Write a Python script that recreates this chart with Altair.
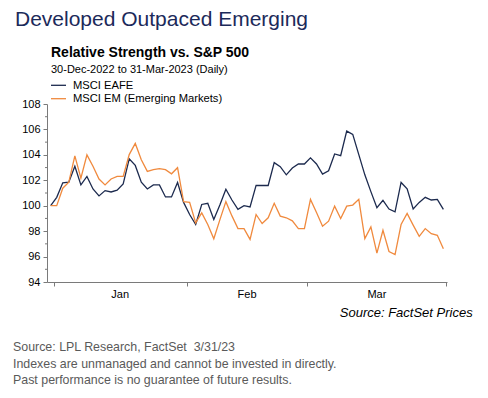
import altair as alt
import pandas as pd

# ---------------- data ----------------
dates = [
    "2022-12-30",
    "2023-01-02", "2023-01-03", "2023-01-04", "2023-01-05", "2023-01-06",
    "2023-01-09", "2023-01-10", "2023-01-11", "2023-01-12", "2023-01-13",
    "2023-01-16", "2023-01-17", "2023-01-18", "2023-01-19", "2023-01-20",
    "2023-01-23", "2023-01-24", "2023-01-25", "2023-01-26", "2023-01-27",
    "2023-01-30", "2023-01-31",
    "2023-02-01", "2023-02-02", "2023-02-03",
    "2023-02-06", "2023-02-07", "2023-02-08", "2023-02-09", "2023-02-10",
    "2023-02-13", "2023-02-14", "2023-02-15", "2023-02-16", "2023-02-17",
    "2023-02-20", "2023-02-21", "2023-02-22", "2023-02-23", "2023-02-24",
    "2023-02-27", "2023-02-28",
    "2023-03-01", "2023-03-02", "2023-03-03",
    "2023-03-06", "2023-03-07", "2023-03-08", "2023-03-09", "2023-03-10",
    "2023-03-13", "2023-03-14", "2023-03-15", "2023-03-16", "2023-03-17",
    "2023-03-20", "2023-03-21", "2023-03-22", "2023-03-23", "2023-03-24",
    "2023-03-27", "2023-03-28", "2023-03-29", "2023-03-30", "2023-03-31",
]

eafe = [
    100.0, 100.66, 101.8, 101.85, 103.1, 101.64, 102.3, 101.32, 100.77, 101.19,
    101.08, 101.22, 101.72, 103.68, 103.17, 101.85, 101.32, 101.64, 101.64, 100.69,
    100.69, 101.83, 100.26, 99.31, 98.52, 100.1, 100.19, 98.92, 100.05, 101.3,
    100.45, 99.71, 100.0, 99.9, 101.6, 101.59, 101.59, 103.39, 103.07, 102.43,
    102.96, 103.28, 103.28, 103.76, 103.28, 102.49, 102.75, 104.07, 103.94, 105.87,
    105.61, 104.02, 102.43, 101.11, 99.84, 100.42, 99.74, 99.52, 101.83, 101.32,
    99.74, 100.26, 100.66, 100.45, 100.5, 99.71,
]

em = [
    100.0, 100.0, 101.38, 101.85, 103.92, 102.17, 104.0, 103.1, 102.1, 101.64,
    102.1, 102.3, 102.3, 104.02, 104.9, 103.62, 102.7, 102.83, 102.91, 102.83,
    102.51, 102.99, 100.32, 100.26, 98.65, 99.44, 98.52, 97.4, 98.89, 100.32,
    99.2, 98.2, 98.2, 97.35, 99.31, 98.6, 99.05, 100.19, 99.18, 99.05,
    98.81, 98.2, 98.2, 100.5, 99.47, 98.39, 98.78, 99.97, 98.99, 99.97,
    100.05, 100.5, 97.41, 98.33, 96.27, 98.07, 96.4, 96.16, 98.52, 99.39,
    98.47, 97.59, 98.2, 97.8, 97.67, 96.61,
]

series_names = ["MSCI EAFE", "MSCI EM (Emerging Markets)"]
series_colors = ["#1c2a4e", "#f08a3e"]

y_major = [94, 96, 98, 100, 102, 104, 106, 108]
y_minor = [95, 97, 99, 101, 103, 105, 107]
month_names = ["Jan", "Feb", "Mar"]

title_text = "Developed Outpaced Emerging"
chart_title = "Relative Strength vs. S&P 500"
chart_sub = "30-Dec-2022 to 31-Mar-2023 (Daily)"
source_text = "Source: FactSet Prices"
footer_text = ("Source: LPL Research, FactSet\u00a0 3/31/23\n"
               "Indexes are unmanaged and cannot be invested in directly.\n"
               "Past performance is no guarantee of future results.")

# ---------------- tables ----------------
n = len(dates)
rows = []
for i in range(n):
    rows.append({"i": i, "date": dates[i], "series": series_names[0], "v": eafe[i]})
    rows.append({"i": i, "date": dates[i], "series": series_names[1], "v": em[i]})
df = pd.DataFrame(rows)

# month boundaries (between last day of a month and first of next)
months_idx = [int(d[5:7]) for d in dates]
bounds = [0.5]
for k in range(1, n):
    if months_idx[k] != months_idx[k - 1] and k > 1:
        bounds.append(k - 0.5)
bounds.append(n - 0.5)
centers = [(bounds[j] + bounds[j + 1]) / 2 for j in range(len(month_names))]
month_df = pd.DataFrame({"m": month_names, "c": centers})

W, H = 400, 178
FONT = "Liberation Sans"
AX = "#7a7a7a"

xscale = alt.Scale(domain=[-0.61, 65.6], nice=False, zero=False)
yscale = alt.Scale(domain=[94, 108], nice=False, zero=False)
xaxis = alt.Axis(values=bounds, labels=False, tickSize=4, title=None,
                 grid=False, domainColor=AX, tickColor=AX)
yaxis = alt.Axis(values=y_major, tickSize=4, labelPadding=3, title=None,
                 grid=False, domainColor=AX, tickColor=AX,
                 labelOverlap=False, labelBound=False, labelFlush=False,
                 labelColor="#000000", labelFont=FONT, labelFontSize=11)

lines = alt.Chart(df).mark_line(strokeWidth=1.3).encode(
    x=alt.X("i:Q", scale=xscale, axis=xaxis),
    y=alt.Y("v:Q", scale=yscale, axis=yaxis),
    color=alt.Color("series:N", scale=alt.Scale(domain=series_names, range=series_colors),
                    legend=None),
    order="i:Q",
)

minor = alt.Chart(pd.DataFrame({"v": y_minor})).mark_rule(color=AX, strokeWidth=1).encode(
    y=alt.Y("v:Q", scale=yscale, axis=yaxis), x=alt.value(-2), x2=alt.value(0)
)

months = alt.Chart(month_df).mark_text(font=FONT, fontSize=11, baseline="alphabetic",
                                       color="#000000").encode(
    x=alt.X("c:Q", scale=xscale, axis=xaxis), y=alt.value(194.3), text="m:N"
)


def txt(s, x, y, **kw):
    return alt.Chart(pd.DataFrame({"t": [s]})).mark_text(
        baseline="alphabetic", align=kw.pop("align", "left"), font=FONT, **kw
    ).encode(x=alt.value(x), y=alt.value(y), text="t:N")


title = txt(title_text, -32, -78, fontSize=21, color="#1c2a5a")
sub1 = txt(chart_title, 4, -47.3, fontSize=14, fontWeight="bold", color="#000000")
sub2 = txt(chart_sub, 4, -31.3, fontSize=11, color="#000000")
leg1 = txt(series_names[0], 26, -14.7, fontSize=11.2, color="#000000")
leg2 = txt(series_names[1], 26, -2.3, fontSize=11.2, color="#000000")
legl1 = alt.Chart(pd.DataFrame({"s": [series_names[0]]})).mark_rule(
    color=series_colors[0], strokeWidth=1.3).encode(
    x=alt.value(4), x2=alt.value(19), y=alt.value(-18.7))
legl2 = alt.Chart(pd.DataFrame({"s": [series_names[1]]})).mark_rule(
    color=series_colors[1], strokeWidth=1.3).encode(
    x=alt.value(4), x2=alt.value(19), y=alt.value(-5.3))
src = txt(source_text, 425.7, 212.7, fontSize=13, fontStyle="italic",
          color="#000000", align="right")
foot = alt.Chart(pd.DataFrame({"t": [footer_text]})).mark_text(
    baseline="alphabetic", align="left", font=FONT, fontSize=12.4, color="#5a5a5a",
    lineBreak="\n", lineHeight=16.5
).encode(x=alt.value(-34), y=alt.value(247), text="t:N")

chart = alt.layer(
    lines, minor, months, title, sub1, sub2, legl1, legl2, leg1, leg2, src, foot
).properties(
    width=W, height=H,
    autosize=alt.AutoSizeParams(type="none"),
    padding={"left": 39, "top": 96, "right": 33, "bottom": 108},
    background="white",
).configure_view(stroke=None)

chart.save("out.html", embed_options={"renderer": "svg", "actions": False})
